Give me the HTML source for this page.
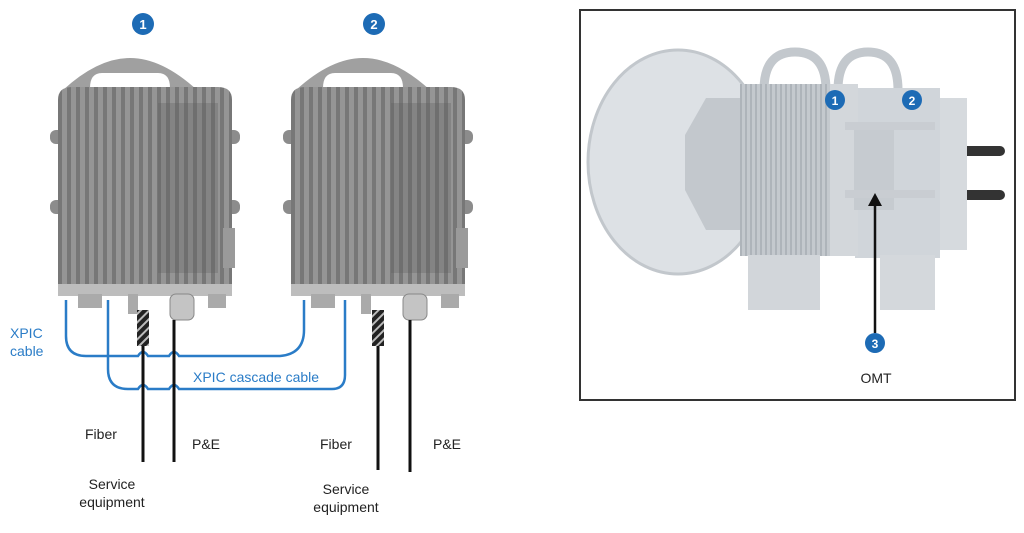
<!DOCTYPE html>
<html><head><meta charset="utf-8"><style>
html,body{margin:0;padding:0;background:#fff;width:1024px;height:533px;overflow:hidden}
svg text{font-family:"Liberation Sans","DejaVu Sans",sans-serif}
</style></head><body>
<svg width="1024" height="533" viewBox="0 0 1024 533" xmlns="http://www.w3.org/2000/svg">
<defs>
<pattern id="fins" width="9" height="10" patternUnits="userSpaceOnUse">
<rect width="9" height="10" fill="#959595"/><rect x="0" width="4" height="10" fill="#777"/>
</pattern>
<pattern id="finsL" width="5" height="10" patternUnits="userSpaceOnUse">
<rect width="5" height="10" fill="#c4c9ce"/><rect width="2" height="10" fill="#aeb4ba"/>
</pattern>
<pattern id="hatch" width="6" height="6" patternUnits="userSpaceOnUse" patternTransform="rotate(45)">
<rect width="6" height="6" fill="#222"/><rect width="2" height="6" fill="#bbb"/>
</pattern>
<g id="unit">
<path d="M5 32 Q40 0 72 0 Q104 0 139 32 Z M32 30 L112 30 Q112 15 100 15 L44 15 Q32 15 32 30Z" fill="#a0a0a0" fill-rule="evenodd"/>
<rect x="-8" y="72" width="14" height="14" rx="6" fill="#8c8c8c"/>
<rect x="-8" y="142" width="14" height="14" rx="6" fill="#8c8c8c"/>
<rect x="168" y="72" width="14" height="14" rx="6" fill="#8c8c8c"/>
<rect x="168" y="142" width="14" height="14" rx="6" fill="#8c8c8c"/>
<path d="M0 42 Q0 29 14 29 L160 29 Q174 29 174 42 L174 234 L0 234Z" fill="url(#fins)"/>
<rect x="100" y="45" width="60" height="170" fill="#5e5e5e" opacity="0.3"/>
<rect x="165" y="170" width="12" height="40" fill="#9a9a9a"/>
<rect x="0" y="226" width="174" height="12" fill="#bdbdbd"/>
<rect x="20" y="236" width="24" height="14" fill="#aaa"/>
<rect x="70" y="236" width="10" height="20" fill="#aaa"/>
<rect x="112" y="236" width="24" height="26" rx="6" fill="#c4c4c4" stroke="#888"/>
<rect x="150" y="236" width="18" height="14" fill="#aaa"/>
</g>
</defs>

<circle cx="143" cy="24" r="11" fill="#1d6bb5"/><text x="143" y="29" font-size="13" font-weight="bold" fill="#fff" text-anchor="middle">1</text>
<circle cx="374" cy="24" r="11" fill="#1d6bb5"/><text x="374" y="29" font-size="13" font-weight="bold" fill="#fff" text-anchor="middle">2</text>

<use href="#unit" x="58" y="58"/>
<use href="#unit" x="291" y="58"/>

<g fill="none" stroke="#2a7cc7" stroke-width="2.5">
<path d="M66 300 L66 336 Q66 356 86 356 L138 356 Q143 348 148 356 L169 356 Q174 348 179 356 L280 356 Q304 354 304 330 L304 300"/>
<path d="M108 300 L108 369 Q108 389 128 389 L138 389 Q143 381 148 389 L169 389 Q174 381 179 389 L332 389 Q345 389 345 375 L345 300"/>
</g>
<g stroke="#111" stroke-width="3">
<line x1="143" y1="340" x2="143" y2="462"/>
<line x1="174" y1="320" x2="174" y2="462"/>
<line x1="378" y1="340" x2="378" y2="470"/>
<line x1="410" y1="320" x2="410" y2="472"/>
</g>
<rect x="137" y="310" width="12" height="36" fill="url(#hatch)"/>
<rect x="372" y="310" width="12" height="36" fill="url(#hatch)"/>

<g font-size="14" fill="#2a7cc7">
<text x="10" y="338">XPIC</text><text x="10" y="356">cable</text>
<text x="193" y="382">XPIC cascade cable</text>
</g>
<g font-size="14" fill="#222">
<text x="85" y="439">Fiber</text>
<text x="192" y="449">P&amp;E</text>
<text x="320" y="449">Fiber</text>
<text x="433" y="449">P&amp;E</text>
<text x="112" y="489" text-anchor="middle">Service</text>
<text x="112" y="507" text-anchor="middle">equipment</text>
<text x="346" y="494" text-anchor="middle">Service</text>
<text x="346" y="512" text-anchor="middle">equipment</text>
</g>

<rect x="580" y="10" width="435" height="390" fill="#fff" stroke="#333" stroke-width="2"/>
<rect x="940" y="146" width="65" height="10" rx="5" fill="#333"/>
<rect x="940" y="190" width="65" height="10" rx="5" fill="#333"/>
<rect x="935" y="98" width="32" height="152" fill="#d6dade"/>
<path d="M764 90 Q764 52 795 52 Q826 52 826 90" fill="none" stroke="#c3c8cd" stroke-width="9"/>
<path d="M838 90 Q838 52 868 52 Q898 52 898 90" fill="none" stroke="#c3c8cd" stroke-width="9"/>
<ellipse cx="678" cy="162" rx="90" ry="112" fill="#dde1e5" stroke="#c2c7cc" stroke-width="3"/>
<polygon points="706,98 740,98 740,230 706,230 685,190 685,135" fill="#c3c8cd"/>
<rect x="855" y="88" width="85" height="170" fill="#d0d5da"/>
<rect x="880" y="255" width="55" height="55" fill="#d4d8dc"/>
<rect x="740" y="84" width="92" height="172" fill="url(#finsL)"/>
<rect x="830" y="84" width="28" height="172" fill="#d3d7db"/>
<rect x="748" y="255" width="72" height="55" fill="#d2d6da"/>
<rect x="854" y="125" width="40" height="85" fill="#c6cbd0"/>
<rect x="845" y="122" width="90" height="8" fill="#c9cdd2"/>
<rect x="845" y="190" width="90" height="8" fill="#c9cdd2"/>
<circle cx="835" cy="100" r="10" fill="#1d6bb5"/><text x="835" y="105" font-size="12" font-weight="bold" fill="#fff" text-anchor="middle">1</text>
<circle cx="912" cy="100" r="10" fill="#1d6bb5"/><text x="912" y="105" font-size="12" font-weight="bold" fill="#fff" text-anchor="middle">2</text>
<line x1="875" y1="333" x2="875" y2="204" stroke="#111" stroke-width="2.5"/>
<polygon points="868,206 882,206 875,193" fill="#111"/>
<circle cx="875" cy="343" r="10" fill="#1d6bb5"/><text x="875" y="348" font-size="12" font-weight="bold" fill="#fff" text-anchor="middle">3</text>
<text x="876" y="383" font-size="14" fill="#222" text-anchor="middle">OMT</text>
</svg>
</body></html>
